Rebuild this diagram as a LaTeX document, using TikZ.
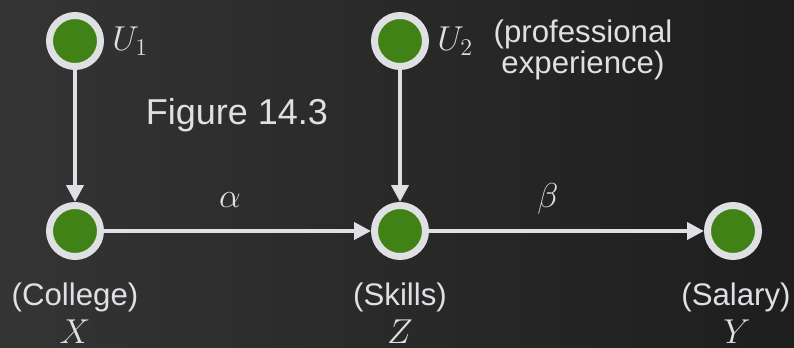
\documentclass[tikz,border=0pt]{standalone}
\usepackage{fontspec}
\setmainfont{Liberation Sans}
\usetikzlibrary{positioning,arrows.meta}
\definecolor{boardL}{RGB}{52,52,52}
\definecolor{boardR}{RGB}{30,30,30}
\definecolor{leaf}{RGB}{65,130,22}
\definecolor{chalk}{RGB}{223,224,228}
\tikzset{
  var/.style={circle,draw=chalk,fill=leaf,line width=3.5pt,minimum size=25.5pt,inner sep=0pt},
  link/.style={draw=chalk,line width=2pt,-{Triangle[length=8.5pt,width=8.5pt]}},
  lbl/.style={text=chalk,font=\fontsize{15.6}{14}\selectfont,align=center,inner sep=0pt},
  sym/.style={text=chalk,font=\fontsize{18}{20}\selectfont,inner sep=0pt}
}

\begin{document}
\begin{tikzpicture}[x=0.5pt,y=-0.5pt]
  \shade[left color=boardL,right color=boardR] (0,0) rectangle (794,348);
  \useasboundingbox (0,0) rectangle (794,348);
  % variables
  \node[var] (U1) at (75,41) {};
  \node[var] (U2) at (400,41) {};
  \node[var] (X) at (75,231) {};
  \node[var] (Z) at (400,231) {};
  \node[var] (Y) at (733,231) {};
  % edges
  \draw[link] (U1) -- (X);
  \draw[link] (U2) -- (Z);
  \draw[link] (X) -- (Z);
  \draw[link] (Z) -- (Y);
  % labels
  \node[sym,right=4pt of U1] (u1) {$U_1$};
  \node[sym,right=4pt of U2] (u2) {$U_2$};
  \node[lbl] (exp) at (583,50) {(professional\\experience)};
  \node[lbl,font=\fontsize{18}{20}\selectfont] (fig) at (237,115) {Figure 14.3};
  \node[sym] (alpha) at (230,200) {$\alpha$};
  \node[sym] (beta) at (548,199) {$\beta$};
  \node[lbl] (college) at (75,297) {(College)};
  \node[lbl] (skills) at (400,297) {(Skills)};
  \node[lbl] (salary) at (736,297) {(Salary)};
  \node[sym] (xname) at (75,332) {$X$};
  \node[sym] (zname) at (400,332) {$Z$};
  \node[sym] (yname) at (737,332) {$Y$};
\end{tikzpicture}
\end{document}
